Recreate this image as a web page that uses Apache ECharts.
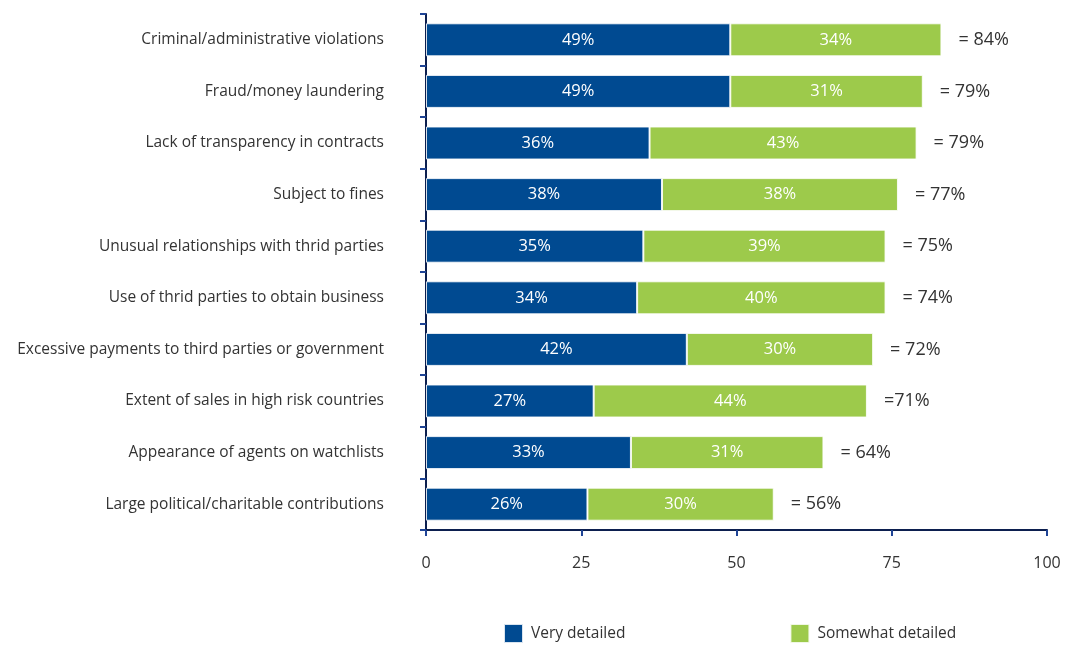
<!DOCTYPE html>
<html>
<head>
<meta charset="utf-8">
<script src="https://cdn.jsdelivr.net/npm/echarts@6/dist/echarts.min.js"></script>
<style>
  html, body { margin: 0; padding: 0; background: #fff; }
  #chart { width: 1076px; height: 645px; }
</style>
</head>
<body>
<div id="chart"></div>
<script>
// Red flags checked in due diligence, share of respondents
const categories = [
  'Criminal/administrative violations',
  'Fraud/money laundering',
  'Lack of transparency in contracts',
  'Subject to fines',
  'Unusual relationships with thrid parties',
  'Use of thrid parties to obtain business',
  'Excessive payments to third parties or government',
  'Extent of sales in high risk countries',
  'Appearance of agents on watchlists',
  'Large political/charitable contributions'
];
const veryDetailed = [49, 49, 36, 38, 35, 34, 42, 27, 33, 26];
const somewhatDetailed = [34, 31, 43, 38, 39, 40, 30, 44, 31, 30];
const totalLabels = ['= 84%', '= 79%', '= 79%', '= 77%', '= 75%', '= 74%', '= 72%', '=71%', '= 64%', '= 56%'];
const xTicks = [0, 25, 50, 75, 100];

const FONT = '"Open Sans", "Noto Sans", sans-serif';
const BLUE = '#004a91';
const GREEN = '#9dca4b';
const TEXT = '#333';

const chart = echarts.init(document.getElementById('chart'));
chart.setOption({
  animation: false,
  textStyle: { fontFamily: FONT },
  grid: { left: 426, right: 29, top: 14, height: 516 },
  legend: {
    data: ['Very detailed', 'Somewhat detailed'],
    left: 498,
    top: 618,
    itemWidth: 19,
    itemHeight: 19,
    itemGap: 164,
    icon: 'rect',
    textStyle: { fontFamily: FONT, fontSize: 15.5, color: TEXT, padding: [0, 0, 0, 3] }
  },
  xAxis: {
    type: 'value',
    min: xTicks[0],
    max: xTicks[xTicks.length - 1],
    interval: 25,
    splitLine: { show: false },
    axisLine: { show: true, lineStyle: { color: '#0c1f4f', width: 2 } },
    axisTick: { show: true, length: 6, lineStyle: { color: '#1f4496', width: 2 } },
    axisLabel: { color: TEXT, fontSize: 16, margin: 25, fontFamily: FONT }
  },
  yAxis: {
    type: 'category',
    data: categories,
    inverse: true,
    axisLine: { show: true, lineStyle: { color: '#0c1f4f', width: 2 } },
    axisTick: { show: true, length: 6, lineStyle: { color: '#1f4496', width: 2 } },
    axisLabel: { color: TEXT, fontSize: 15.5, margin: 42, fontFamily: FONT }
  },
  series: [
    {
      name: 'Very detailed',
      type: 'bar',
      stack: 'total',
      data: veryDetailed,
      barWidth: 33,
      itemStyle: { color: BLUE, borderColor: 'rgba(255,255,255,0.85)', borderWidth: 1 },
      label: { show: true, position: 'inside', color: '#fff', fontSize: 16.5, fontFamily: FONT, formatter: '{c}%' }
    },
    {
      name: 'Somewhat detailed',
      type: 'bar',
      stack: 'total',
      data: somewhatDetailed,
      barWidth: 33,
      itemStyle: { color: GREEN, borderColor: 'rgba(255,255,255,0.85)', borderWidth: 1 },
      label: { show: true, position: 'inside', color: '#fff', fontSize: 16.5, fontFamily: FONT, formatter: '{c}%' }
    },
    {
      name: 'Total',
      type: 'bar',
      stack: 'total',
      data: categories.map(() => 0),
      barWidth: 33,
      itemStyle: { color: 'transparent' },
      label: {
        show: true,
        position: 'right',
        distance: 17,
        color: TEXT,
        fontSize: 18,
        fontFamily: FONT,
        formatter: p => totalLabels[p.dataIndex]
      }
    }
  ]
});
</script>
</body>
</html>
